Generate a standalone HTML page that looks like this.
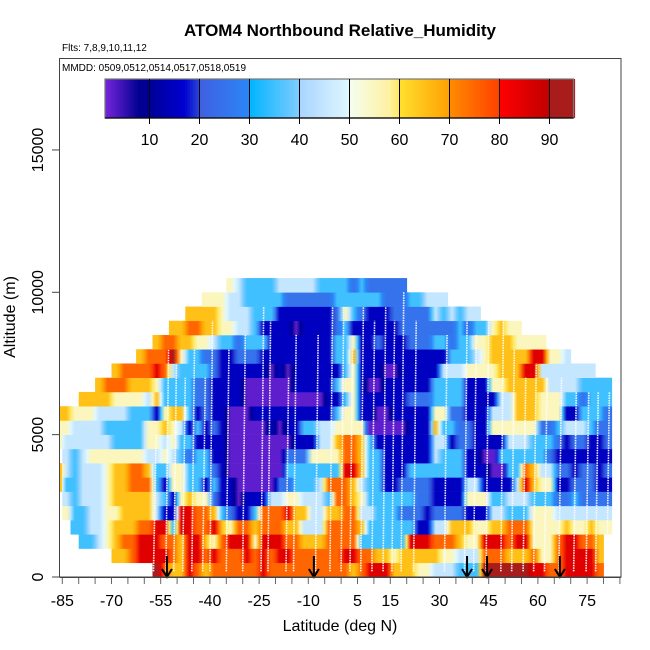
<!DOCTYPE html>
<html><head><meta charset="utf-8"><style>
html,body{margin:0;padding:0;background:#fff;}
svg{display:block;font-family:"Liberation Sans",sans-serif;}
</style></head><body>
<svg id="chart" width="650" height="650" viewBox="0 0 650 650">
<defs id="defs"></defs>
<text x="340" y="36" text-anchor="middle" font-size="17" font-weight="bold">ATOM4 Northbound Relative_Humidity</text>
<text x="62" y="51" font-size="10">Flts: 7,8,9,10,11,12</text>
<g id="heat"></g>
<g id="profiles"></g>
<g id="arrows"></g>
<rect x="59.5" y="58.5" width="561.5" height="518.5" fill="none" stroke="#444" stroke-width="1"/>
<text x="62" y="71" font-size="10">MMDD: 0509,0512,0514,0517,0518,0519</text>
<g id="cbar"></g>
<g id="xaxis"></g>
<g id="yaxis"></g>
<text x="340" y="631" text-anchor="middle" font-size="16">Latitude (deg N)</text>
<text x="0" y="0" transform="translate(15,317) rotate(-90)" text-anchor="middle" font-size="16">Altitude (m)</text>
</svg>
<script>
// ---- data ----
const colLat0 = -87.5;      // first latitude bin start
const colWidthDeg = 2.5;    // bin width
const rowDepth = 500;       // altitude bin (m)
const rowStart = [12,7,3,2,1,1,0,0,1,0,0,0,3,5,7,10,12,14,16,18,21];
const rowDigits = [
"976687677777"+"78777777777767"+"88866655"+"444333999999887788887",
"66788887688787778"+"7878877777788776656666"+"655444777666755788886",
"334567788877688657888"+"5888776667777333333888"+"777655888788555788776",
"3344566677883887786577"+"6777664447777633333311"+"4466655667775555655655",
"53344556666411887763211"+"3777866446677443332221"+"2222111443335554444444",
"43444566666431565521101"+"1144554443776533333322"+"1111555334443332232222",
"633444566777315533131100"+"0002233347776433112222"+"1111441111486551122211",
"643444566776335533321000"+"0000333333388633111333"+"3333111003376442212212",
"43455555554454323311000"+"0000222555577633111111"+"4333110033333321111111",
"544444433335545331111000"+"0000011144677631111111"+"4412211114443332122112",
"554444333335565413121000"+"0010113344555500000111"+"6332211555555223444322",
"665554444333156631211000"+"1111111111355110011111"+"5522111444666555113332",
"666655554633332211110"+"000000000113511111"+"1222"+"3333111144666555332333",
"6777666533332211110"+"0000011111355100111111"+"3333111556666644443333",
"67777874333321111"+"1101011111135111001111"+"14445555666884444444",
"67779533221122"+"2111111111336111111111"+"11333456666688554",
"677665543323"+"3311111111335112111222"+"33233556665555",
"6677665544"+"3111101111231111112222"+"22232335655",
"66665444"+"3331111111253211122222"+"434344",
"555443"+"3333222222333333222334"+"44",
"5433334444433332322222"
];
const digitValue = [2.5,15,25,35,45,55,65,75,85,92];
const profileLat = [-57.2,-53.4,-51,-48.3,-45.5,-42.2,-40,-35,-30,-24.4,-22.3,-16.8,-14.5,-7.8,-3.4,0,2.7,6,9.4,12.8,15.5,18.3,22.1,31.5,37.6,40.4,44.2,48.7,52,55.5,58.7,62,66.4,70.9,74.7,77.6,81];
const profileTop = [5000,8000,7500,7000,8000,7000,9000,8000,8500,9500,9000,7000,8500,8500,9500,9500,8000,9500,9000,9500,9000,10000,9000,8500,9000,8500,9000,9000,8000,7000,7500,7000,7000,6500,6500,6500,6500];
const arrowLat = [-53.1,-8.3,38.4,44.5,66.7];
const xTickLabels = [-85,-70,-55,-40,-25,-10,5,15,30,45,60,75];
const yTickLabels = [0,5000,10000,15000];
const cbarTicks = [10,20,30,40,50,60,70,80,90];
const cmapStops = [[0,'#8a2be8'],[8,'#000090'],[10,'#000098'],[17,'#0000d0'],[20,'#2a48d8'],[20.01,'#4060e0'],[30,'#2a86f8'],[30.01,'#00b4ff'],[40,'#80ccff'],[40.01,'#a8d4ff'],[50,'#e0f8ff'],[50.01,'#f4fff0'],[58,'#fff0a0'],[60,'#ffe860'],[60.01,'#ffe030'],[70,'#ffa000'],[70.01,'#ff8c00'],[80,'#ff4000'],[80.01,'#ff0000'],[90,'#c00000'],[90.01,'#a81c1c'],[100,'#a81c1c']];

// ---- scales ----
const NS='http://www.w3.org/2000/svg';
function X(lat){return 62.3+(lat+85)*3.28;}
function Y(alt){return 577-alt*0.02847;}
function CB(v){return 99.5+v*5.0;}
function hex(h){return [1,3,5].map(i=>parseInt(h.substr(i,2),16));}
function cmap(v){
  for(let i=1;i<cmapStops.length;i++){
    if(v<=cmapStops[i][0]){
      const a=cmapStops[i-1],b=cmapStops[i];
      const t=(v-a[0])/(b[0]-a[0]||1);
      const ca=hex(a[1]),cb=hex(b[1]);
      return 'rgb('+ca.map((c,k)=>Math.round(c+(cb[k]-c)*t)).join(',')+')';
    }
  }
  return cmapStops[cmapStops.length-1][1];
}
function mk(tag,attrs,parent){const e=document.createElementNS(NS,tag);for(const k in attrs)e.setAttribute(k,attrs[k]);parent.appendChild(e);return e;}

// ---- heatmap (each cell shaded toward its neighbours) ----
const heat=document.getElementById('heat');
const defs=document.getElementById('defs');
let gid=0;
rowDigits.forEach((s,r)=>{
  for(let j=0;j<s.length;j++){
    const c=rowStart[r]+j;
    const lat=colLat0+c*colWidthDeg;
    let x0=Math.max(X(lat),60), x1=Math.min(X(lat+colWidthDeg),620.5);
    if(x1<=x0) continue;
    const v=digitValue[+s[j]];
    const vl=j>0?(digitValue[+s[j-1]]+v)/2:v;
    const vr=j<s.length-1?(digitValue[+s[j+1]]+v)/2:v;
    const id='g'+(gid++);
    const lg=mk('linearGradient',{id:id,x1:'0',y1:'0',x2:'1',y2:'0'},defs);
    mk('stop',{offset:'0','stop-color':cmap(vl)},lg);
    mk('stop',{offset:'0.5','stop-color':cmap(v)},lg);
    mk('stop',{offset:'1','stop-color':cmap(vr)},lg);
    const rc=mk('rect',{x:x0,y:Y((r+1)*rowDepth),width:x1-x0+0.4,height:Y(r*rowDepth)-Y((r+1)*rowDepth)+0.3,fill:'url(#'+id+')'},heat);
    
    
  }
});

// ---- profiles ----
const prof=document.getElementById('profiles');
profileLat.forEach((lat,i)=>{
  const l=mk('line',{x1:X(lat),y1:Y(200),x2:X(lat+0.8),y2:Y(profileTop[i]),stroke:'#fff','stroke-width':1.6,'stroke-dasharray':'1.5 1','opacity':0.95},prof);
  
  
});

// ---- arrows ----
const arr=document.getElementById('arrows');
arrowLat.forEach(lat=>{
  const x=X(lat);
  const g=mk('g',{},arr);
  
  
  mk('line',{x1:x,y1:556,x2:x,y2:576,stroke:'#000','stroke-width':2},g);
  mk('path',{d:`M${x-5},${569} L${x},${577} L${x+5},${569}`,fill:'none',stroke:'#000','stroke-width':2},g);
});

// ---- colorbar ----
const cbar=document.getElementById('cbar');
for(let v=1.1;v<94.9;v+=0.5){
  const r=mk('rect',{x:CB(v),y:79,width:2.6,height:39,fill:cmap(v+0.25)},cbar);
  
  
}
mk('rect',{x:CB(1.1),y:79,width:CB(94.8)-CB(1.1),height:39,fill:'none',stroke:'#777','stroke-width':1.2},cbar);
cbarTicks.forEach(v=>{
  const g=mk('g',{},cbar);
  
  
  mk('line',{x1:CB(v),y1:79,x2:CB(v),y2:124,stroke:'#000','stroke-width':1},g);
  const t=mk('text',{x:CB(v),y:145,'text-anchor':'middle','font-size':16},g);
  t.textContent=v;
});
mk('line',{x1:CB(1.1),y1:118,x2:CB(94.8),y2:118,stroke:'#000','stroke-width':1.2},cbar);

// ---- x axis ----
const xa=document.getElementById('xaxis');
mk('line',{x1:59.5,y1:577.5,x2:621,y2:577.5,stroke:'#444','stroke-width':1},xa);
for(let lat=-85;lat<=85;lat+=5){
  const t=mk('line',{x1:X(lat),y1:578,x2:X(lat),y2:584,stroke:'#666','stroke-width':1},xa);
  
  
}
xTickLabels.forEach(v=>{
  const t=mk('text',{x:X(v),y:606,'text-anchor':'middle','font-size':16},xa);
  
  
  t.textContent=v;
});

// ---- y axis ----
const ya=document.getElementById('yaxis');
yTickLabels.forEach(v=>{
  const y=Y(v);
  const l=mk('line',{x1:52,y1:y,x2:59.5,y2:y,stroke:'#444','stroke-width':1},ya);
  
  
  const t=mk('text',{x:0,y:0,transform:`translate(43,${y}) rotate(-90)`,'text-anchor':'middle','font-size':16},ya);
  
  
  t.textContent=v;
});
</script>
</body></html>
